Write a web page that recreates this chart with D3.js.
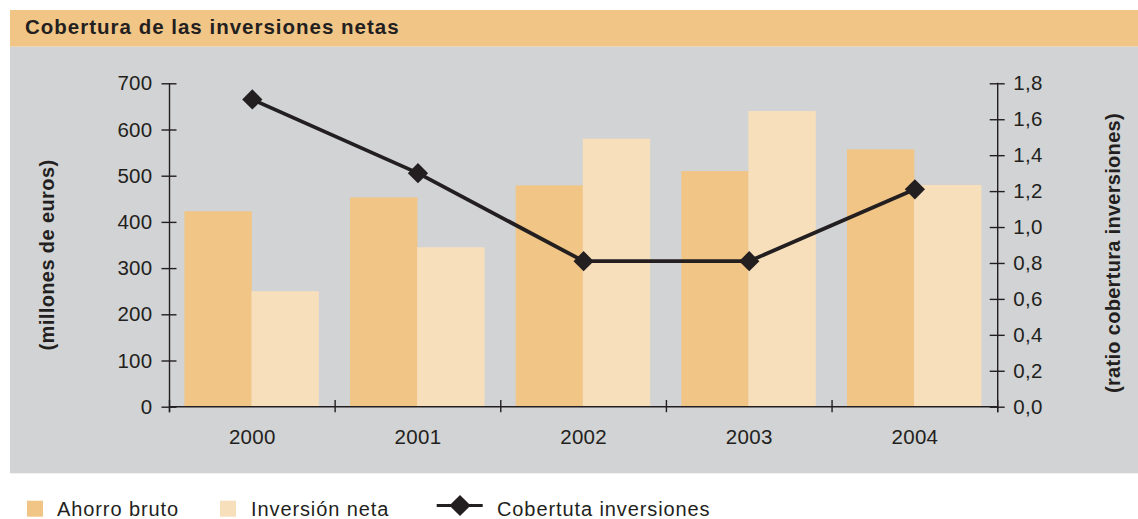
<!DOCTYPE html>
<html>
<head>
<meta charset="utf-8">
<script src="https://cdn.jsdelivr.net/npm/d3@7"></script>
<style>
  html, body { margin: 0; padding: 0; background: #ffffff; }
  svg { display: block; }
  text { font-family: "Liberation Sans", Arial, Helvetica, sans-serif; fill: #231f20; }
</style>
</head>
<body>
<script>
// ---- Data ----
const years = ["2000", "2001", "2002", "2003", "2004"];
const ahorroBruto = [423, 453, 479, 510, 557];
const inversionNeta = [250, 345, 580, 640, 480];
const cobertura = [1.71, 1.30, 0.81, 0.81, 1.21];
const leftTicks = [0, 100, 200, 300, 400, 500, 600, 700];
const rightTicks = [0, 0.2, 0.4, 0.6, 0.8, 1.0, 1.2, 1.4, 1.6, 1.8];
const seriesNames = ["Ahorro bruto", "Inversión neta"];
const lineName = "Cobertuta inversiones";
const titleText = "Cobertura de las inversiones netas";
const leftTitle = "(millones de euros)";
const rightTitle = "(ratio cobertura inversiones)";

// ---- Styles ----
const W = 1138, H = 519;
const colAhorro = "#f1c586";
const colInv = "#f7dfbc";
const colBg = "#d1d3d4";
const colHeader = "#f1c586";
const ink = "#231f20";

const svg = d3.select("body").append("svg").attr("width", W).attr("height", H);

// header band & panel
svg.append("rect").attr("x", 10).attr("y", 10).attr("width", W - 10).attr("height", 36.7).attr("fill", colHeader);
svg.append("rect").attr("x", 10).attr("y", 46.7).attr("width", W - 10).attr("height", 426.6).attr("fill", colBg);
svg.append("text").attr("x", 25).attr("y", 34.3)
  .attr("font-size", 20.5).attr("font-weight", "bold").attr("letter-spacing", 1.0)
  .text(titleText);

// ---- Scales ----
const plotL = 169.5, plotR = 997.7, plotT = 83.3, plotB = 406.7;
const x = d3.scaleBand().domain(years).range([plotL, plotR]).padding(0);
const x1 = d3.scaleBand().domain(seriesNames)
  .range([x.bandwidth() * 0.09, x.bandwidth() * 0.90]).padding(0);
const yL = d3.scaleLinear().domain([0, 700]).range([plotB, plotT]);
const yR = d3.scaleLinear().domain([0, 1.8]).range([plotB, plotT]);

// ---- Bars ----
const barData = years.map((yr, i) => ({ yr, vals: [ahorroBruto[i], inversionNeta[i]] }));
const g = svg.append("g");
const groups = g.selectAll("g.yr").data(barData).join("g")
  .attr("transform", d => `translate(${x(d.yr)},0)`);
groups.selectAll("rect").data(d => d.vals.map((v, k) => ({ k, v }))).join("rect")
  .attr("x", d => x1(seriesNames[d.k]))
  .attr("width", x1.bandwidth() + 0.3)
  .attr("y", d => yL(d.v))
  .attr("height", d => yL(0) - yL(d.v))
  .attr("fill", d => d.k === 0 ? colAhorro : colInv);

// ---- Axes ----
const axisStroke = 1.4;
const tickFont = 20.5, tickLS = 0.3;
// left axis
const gl = svg.append("g").attr("transform", `translate(${plotL},0)`)
  .call(d3.axisLeft(yL).tickValues(leftTicks).tickSize(8).tickPadding(9).tickFormat(d3.format("d")));
gl.select(".domain").remove();
gl.selectAll(".tick line").attr("x1", -8).attr("x2", 7).attr("stroke", ink).attr("stroke-width", axisStroke);
gl.selectAll(".tick text").attr("font-size", tickFont).attr("letter-spacing", tickLS)
  .attr("font-family", "Liberation Sans, Arial, sans-serif").attr("fill", ink).attr("x", -17);
svg.append("line").attr("x1", plotL).attr("x2", plotL).attr("y1", plotT).attr("y2", plotB + 5.5)
  .attr("stroke", ink).attr("stroke-width", axisStroke);

// right axis
const commaFmt = v => d3.format(".1f")(v).replace(".", ",");
const gr = svg.append("g").attr("transform", `translate(${plotR},0)`)
  .call(d3.axisRight(yR).tickValues(rightTicks).tickSize(7).tickPadding(9).tickFormat(commaFmt));
gr.select(".domain").remove();
gr.selectAll(".tick line").attr("x1", -8).attr("x2", 7).attr("stroke", ink).attr("stroke-width", axisStroke);
gr.selectAll(".tick text").attr("font-size", tickFont).attr("letter-spacing", tickLS)
  .attr("font-family", "Liberation Sans, Arial, sans-serif").attr("fill", ink).attr("x", 15.6);
svg.append("line").attr("x1", plotR).attr("x2", plotR).attr("y1", plotT - 0.6).attr("y2", plotB + 5.5)
  .attr("stroke", ink).attr("stroke-width", axisStroke);

// bottom axis
svg.append("line").attr("x1", plotL).attr("x2", plotR).attr("y1", plotB).attr("y2", plotB)
  .attr("stroke", ink).attr("stroke-width", axisStroke);
const boundaries = years.map(d => x(d)).concat([plotR]);
svg.append("g").selectAll("line").data(boundaries).join("line")
  .attr("x1", d => d).attr("x2", d => d)
  .attr("y1", plotB - 6.7).attr("y2", plotB + 5.5)
  .attr("stroke", ink).attr("stroke-width", axisStroke);
const gb = svg.append("g").attr("transform", `translate(0,${plotB})`)
  .call(d3.axisBottom(x).tickSize(0).tickPadding(23));
gb.select(".domain").remove();
gb.selectAll(".tick text").attr("font-size", tickFont).attr("letter-spacing", tickLS)
  .attr("font-family", "Liberation Sans, Arial, sans-serif").attr("fill", ink);

// axis titles
svg.append("text").attr("transform", `translate(54,255) rotate(-90)`)
  .attr("text-anchor", "middle").attr("font-size", 20).attr("font-weight", "bold")
  .attr("letter-spacing", 0.4).text(leftTitle);
svg.append("text").attr("transform", `translate(1120,253) rotate(-90)`)
  .attr("text-anchor", "middle").attr("font-size", 20).attr("font-weight", "bold")
  .attr("letter-spacing", 0.3).text(rightTitle);

// ---- Line ----
const lineData = years.map((yr, i) => ({ yr, v: cobertura[i] }));
const line = d3.line().x(d => x(d.yr) + x.bandwidth() / 2).y(d => yR(d.v));
svg.append("path").datum(lineData).attr("d", line)
  .attr("fill", "none").attr("stroke", ink).attr("stroke-width", 3.8).attr("stroke-linejoin", "round");
const diamond = d3.symbol().type(d3.symbolSquare).size(205);
svg.append("g").selectAll("path").data(lineData).join("path")
  .attr("d", diamond)
  .attr("transform", d => `translate(${x(d.yr) + x.bandwidth() / 2},${yR(d.v)}) rotate(45)`)
  .attr("fill", ink);

// ---- Legend ----
const legY = 516;
const lg = svg.append("g");
const swX = [27, 220];
const txX = [57, 251];
seriesNames.forEach((name, k) => {
  lg.append("rect").attr("x", swX[k]).attr("y", 500.7).attr("width", 16).attr("height", 16)
    .attr("fill", k === 0 ? colAhorro : colInv);
  lg.append("text").attr("x", txX[k]).attr("y", legY).attr("font-size", 20)
    .attr("letter-spacing", 0.9).text(name);
});
lg.append("line").attr("x1", 436.7).attr("x2", 482.7).attr("y1", 505.5).attr("y2", 505.5)
  .attr("stroke", ink).attr("stroke-width", 3);
lg.append("path").attr("d", d3.symbol().type(d3.symbolSquare).size(225))
  .attr("transform", "translate(460,505.5) rotate(45)").attr("fill", ink);
lg.append("text").attr("x", 497).attr("y", legY).attr("font-size", 20)
  .attr("letter-spacing", 0.9).text(lineName);
</script>
</body>
</html>
